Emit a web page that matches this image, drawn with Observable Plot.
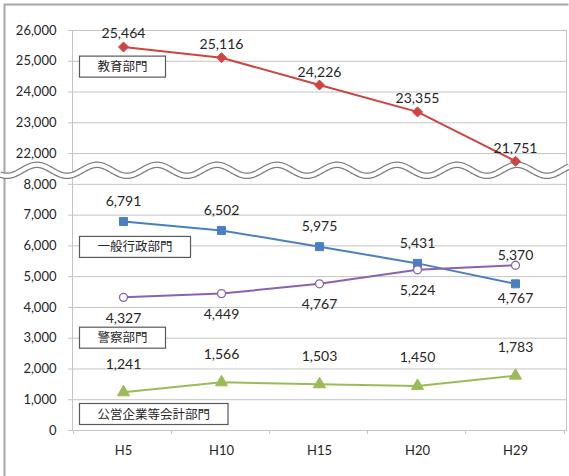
<!DOCTYPE html>
<html><head><meta charset="utf-8">
<script src="https://cdn.jsdelivr.net/npm/d3@7"></script>
<script src="https://cdn.jsdelivr.net/npm/@observablehq/plot@0.6"></script>
<style>
body{margin:0;background:#fff;}
#chart{width:569px;height:476px;overflow:hidden;}
</style></head>
<body><div id="chart"></div>
<script>
// ---- data ----
const years = ["H5", "H10", "H15", "H20", "H29"];
const seriesNames = ["教育部門", "一般行政部門", "警察部門", "公営企業等会計部門"];
const education = [25464, 25116, 24226, 23355, 21751];
const generalAdmin = [6791, 6502, 5975, 5431, 4767];
const police = [4327, 4449, 4767, 5224, 5370];
const publicEnterprise = [1241, 1566, 1503, 1450, 1783];
const lowerTicks = [0, 1000, 2000, 3000, 4000, 5000, 6000, 7000, 8000];
const upperTicks = [22000, 23000, 24000, 25000, 26000];

// ---- broken axis mapping ----
const BREAK_LOW = 8000, BREAK_HIGH = 22000, GAP = 1000;
const SHIFT = BREAK_HIGH - BREAK_LOW - GAP; // 13000
const toAxis = v => v > (BREAK_LOW + BREAK_HIGH) / 2 ? v - SHIFT : v;
const fromAxis = v => v > BREAK_LOW + GAP / 2 ? v + SHIFT : v;
const fmt = d3.format(",");

const colors = ["#cf4441", "#4a7fc1", "#8a63b0", "#9bbb59"];
const symbols = ["diamond2", "square", "circle", "triangle"];
const seriesValues = [education, generalAdmin, police, publicEnterprise];

const rows = [];
seriesValues.forEach((vals, s) => vals.forEach((v, i) => {
  let side = "above";
  if (s === 1 && v < police[i]) side = "below";
  if (s === 2 && v < generalAdmin[i]) side = "below";
  rows.push({series: seriesNames[s], idx: s, year: years[i], value: v, y: toAxis(v), side});
}));

// label offsets (pixels) per series and side
const labelDy = {
  "教育部門": {above: -13},
  "一般行政部門": {above: -20, below: 15},
  "警察部門": {above: -10, below: 21},
  "公営企業等会計部門": {above: -28}
};

// annotation box anchors (value on the real axis)
const boxValues = [24810, 5950, 3000, 520];
const boxRows = seriesNames.map((n, i) => ({name: n, year: years[0], y: toAxis(boxValues[i])}));

const ticks = [...lowerTicks, ...upperTicks].map(toAxis);

const labelMarks = [];
for (const name of seriesNames) {
  for (const side of ["above", "below"]) {
    const dy = labelDy[name][side];
    if (dy === undefined) continue;
    labelMarks.push(Plot.text(rows.filter(r => r.series === name && r.side === side), {
      x: "year", y: "y", text: d => fmt(d.value), dy, fontSize: 14, fill: "#262626"
    }));
  }
}

const plot = Plot.plot({
  width: 569, height: 476,
  marginLeft: 72, marginRight: 3, marginTop: 30, marginBottom: 46,
  style: {fontFamily: "Lato, 'Noto Sans CJK JP', sans-serif", background: "#fff", color: "#262626"},
  x: {type: "point", domain: years, padding: 0.5, label: null},
  y: {domain: [0, 13000], label: null},
  marks: [
    Plot.gridY(ticks, {stroke: "#c4c4c4", strokeOpacity: 1}),
    Plot.frame({stroke: "#c4c4c4"}),
    Plot.axisY(ticks, {tickSize: 4, tickPadding: 12, stroke: "#c4c4c4", fontSize: 13, tickFormat: d => fmt(fromAxis(d)), label: null}),
    Plot.axisX({tickSize: 0, tickPadding: 15, fontSize: 13, label: null}),
    Plot.line(rows, {x: "year", y: "y", z: "series", stroke: d => colors[d.idx], strokeWidth: 2, ariaDescription: "series-lines"}),
    ...seriesNames.map((n, s) => Plot.dot(rows.filter(r => r.idx === s), {
      x: "year", y: "y", symbol: symbols[s], r: s === 2 ? 4 : 4.5,
      fill: s === 2 ? "#fff" : colors[s], stroke: colors[s], strokeWidth: s === 2 ? 1.3 : 1
    })),
    ...labelMarks,
    Plot.text(boxRows, {x: "year", y: "y", text: "name", dx: -26, textAnchor: "start",
      fontSize: 12.5, fill: "#262626", ariaDescription: "boxed"})
  ]
});

document.getElementById("chart").append(plot);

const xs = plot.scale("x"), ys = plot.scale("y");
const svg = d3.select(plot);
const lineG = svg.select('g[aria-description="series-lines"]').node();

// x tick marks at category boundaries
const step = (xs.range[1] - xs.range[0]) / years.length;
const y0 = ys.apply(0);
const tickG = svg.append("g").attr("stroke", "#c4c4c4");
years.forEach((yr, i) => {
  const cx = xs.apply(yr);
  tickG.append("line").attr("x1", cx - step / 2).attr("x2", cx - step / 2).attr("y1", y0).attr("y2", y0 + 4);
  if (i === years.length - 1) tickG.append("line").attr("x1", cx + step / 2).attr("x2", cx + step / 2).attr("y1", y0).attr("y2", y0 + 4);
});

// boxes around annotation labels
svg.selectAll('g[aria-description="boxed"] text').each(function() {
  const b = this.getBBox();
  const cy = b.y + b.height / 2;
  d3.select(this.parentNode).insert("rect", () => this)
    .attr("transform", this.getAttribute("transform"))
    .attr("x", b.x - 18).attr("y", cy - 10.5)
    .attr("width", b.width + 36).attr("height", 21)
    .attr("fill", "#fff").attr("stroke", "#595959").attr("stroke-width", 1.2);
});

// outer picture frame (below the series)
svg.insert("path", () => lineG).attr("d", "M4.5,476V4.5H568.5").attr("fill", "none").attr("stroke", "#a6a6a6").attr("stroke-width", 2);

// wavy axis break (below the series)
const yc = ys.apply(8440);
const pts = d3.range(0, 570, 1).map(x => [x, yc - 5.5 * Math.cos(2 * Math.PI * (x - 37) / 60)]);
const wave = d3.line()(pts);
svg.insert("path", () => lineG).attr("d", wave).attr("fill", "none").attr("stroke", "#7f7f7f").attr("stroke-width", 6.5);
svg.insert("path", () => lineG).attr("d", wave).attr("fill", "none").attr("stroke", "#fff").attr("stroke-width", 4);
</script>
</body></html>
